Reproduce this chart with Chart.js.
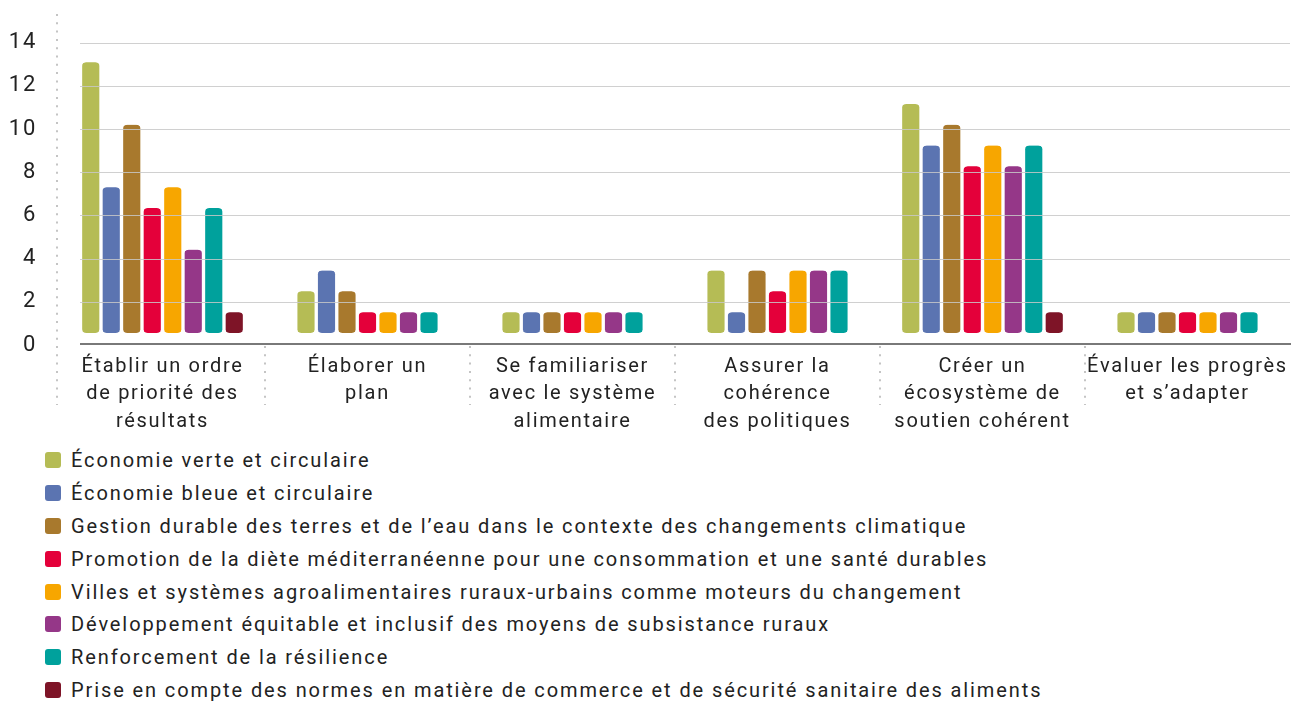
<!DOCTYPE html>
<html lang="fr">
<head>
<meta charset="utf-8">
<script src="https://cdn.jsdelivr.net/npm/chart.js@4.4.1/dist/chart.umd.min.js"></script>
<style>
  html, body { margin: 0; padding: 0; background: #fff; }
  #wrap { position: relative; width: 1307px; height: 702px; overflow: hidden; }
  #c { position: absolute; left: 0; top: 0; }
  #legend { position: absolute; left: 45px; top: 444px; margin: 0; padding: 0; list-style: none;
    font-family: Roboto, "Noto Sans", sans-serif; font-size: 20px; letter-spacing: 1.9px; color: #222; }
  #legend li { height: 32.8px; display: flex; align-items: center; white-space: nowrap; }
  #legend .box { width: 16px; height: 16px; border-radius: 3px; margin-right: 10px; flex: none; }
</style>
</head>
<body>
<div id="wrap">
  <canvas id="c" width="1307" height="440"></canvas>
  <ul id="legend"></ul>
</div>
<script>
// ---- data ----
const categories = [
  ['Établir un ordre', 'de priorité des', 'résultats'],
  ['Élaborer un', 'plan'],
  ['Se familiariser', 'avec le système', 'alimentaire'],
  ['Assurer la', 'cohérence', 'des politiques'],
  ['Créer un', 'écosystème de', 'soutien cohérent'],
  ['Évaluer les progrès', 'et s’adapter']
];
const seriesNames = [
  'Économie verte et circulaire',
  'Économie bleue et circulaire',
  'Gestion durable des terres et de l’eau dans le contexte des changements climatique',
  'Promotion de la diète méditerranéenne pour une consommation et une santé durables',
  'Villes et systèmes agroalimentaires ruraux-urbains comme moteurs du changement',
  'Développement équitable et inclusif des moyens de subsistance ruraux',
  'Renforcement de la résilience',
  'Prise en compte des normes en matière de commerce et de sécurité sanitaire des aliments'
];
const seriesColors = ['#B5BC55', '#5B74B1', '#A8792D', '#E4003A', '#F7A600', '#953788', '#00A19C', '#7E1427'];
const economieVerte   = [13, 2, 1, 3, 11, 1];
const economieBleue   = [7, 3, 1, 1, 9, 1];
const gestionTerres   = [10, 2, 1, 3, 10, 1];
const dieteMed        = [6, 1, 1, 2, 8, 1];
const villesSystemes  = [7, 1, 1, 3, 9, 1];
const developpement   = [4, 1, 1, 3, 8, 1];
const resilience      = [6, 1, 1, 3, 9, 1];
const normesCommerce  = [1, null, null, null, 1, null];
const seriesValues = [economieVerte, economieBleue, gestionTerres, dieteMed, villesSystemes, developpement, resilience, normesCommerce];
const yTicks = [0, 2, 4, 6, 8, 10, 12, 14];

// ---- style ----
const FONT = 'Roboto, "Noto Sans", sans-serif';
const TEXT = '#222222';

const datasets = seriesNames.map((name, i) => ({
  label: name,
  data: seriesValues[i],
  backgroundColor: seriesColors[i],
  borderColor: '#ffffff',
  borderWidth: { left: 2, right: 2, top: 0, bottom: 0 },
  borderRadius: 6,
  borderSkipped: false,
  barThickness: 20.5,
  skipNull: true,
  yAxisID: 'yb'
}));

const letterSpacingPlugin = {
  id: 'ls',
  beforeLayout(chart) { chart.ctx.letterSpacing = '1.7px'; },
  beforeDraw(chart) { chart.ctx.letterSpacing = '1.7px'; }
};

const decoPlugin = {
  id: 'deco',
  afterDatasetsDraw(chart) {
    const { ctx, chartArea, scales } = chart;
    const y = scales.y, x = scales.x;
    const left = chartArea.left + 20, right = chartArea.right;
    ctx.save();
    // horizontal grid lines
    ctx.strokeStyle = 'rgba(200,200,200,0.85)';
    ctx.lineWidth = 1.2;
    yTicks.forEach(v => {
      if (v === 0) return;
      const py = Math.round(y.getPixelForValue(v)) + 0.5;
      ctx.beginPath(); ctx.moveTo(left, py); ctx.lineTo(right, py); ctx.stroke();
    });
    // baseline axis
    const p0 = y.getPixelForValue(0) - 1;
    ctx.strokeStyle = '#4d4d4d';
    ctx.lineWidth = 1.6;
    ctx.beginPath(); ctx.moveTo(left, p0); ctx.lineTo(right + 1, p0); ctx.stroke();
    // dotted separators
    ctx.strokeStyle = '#c4c4c4';
    ctx.lineWidth = 2;
    ctx.setLineDash([2, 6.3]);
    const bottom = chartArea.bottom + 60;
    ctx.beginPath();
    ctx.moveTo(chartArea.left - 3, 14); ctx.lineTo(chartArea.left - 3, bottom);
    for (let i = 0; i < categories.length - 1; i++) {
      const px = (x.getPixelForValue(i) + x.getPixelForValue(i + 1)) / 2;
      ctx.moveTo(px, chartArea.bottom + 1); ctx.lineTo(px, bottom);
    }
    ctx.stroke();
    ctx.restore();
  }
};

const chart = new Chart(document.getElementById('c'), {
  type: 'bar',
  data: { labels: categories, datasets },
  options: {
    responsive: false,
    animation: false,
    devicePixelRatio: 1,
    layout: { padding: { top: 21, right: 17, left: 0, bottom: 0 } },
    plugins: { legend: { display: false }, tooltip: { enabled: false } },
    scales: {
      x: {
        type: 'category',
        offset: true,
        grid: { display: false },
        border: { display: false },
        ticks: {
          font: { family: FONT, size: 20, lineHeight: 1.38 },
          color: TEXT, padding: 0, maxRotation: 0, autoSkip: false
        },
        afterFit(s) { s.height = 95; s.paddingLeft = 0; s.paddingRight = 0; }
      },
      y: {
        position: 'left',
        min: 0, max: 15,
        afterBuildTicks(s) { s.ticks = yTicks.map(v => ({ value: v })); },
        grid: { display: false },
        border: { display: false },
        ticks: { font: { family: FONT, size: 22 }, color: TEXT, padding: 15 },
        afterFit(s) { s.width = 60; s.paddingTop = 0; s.paddingBottom = 0; }
      },
      yb: {
        display: false,
        min: -0.577, max: 14.98
      }
    }
  },
  plugins: [letterSpacingPlugin, decoPlugin]
});

// HTML legend built from the chart's datasets
const ul = document.getElementById('legend');
chart.data.datasets.forEach(ds => {
  const li = document.createElement('li');
  const box = document.createElement('span');
  box.className = 'box';
  box.style.background = ds.backgroundColor;
  const t = document.createElement('span');
  t.textContent = ds.label;
  li.appendChild(box); li.appendChild(t);
  ul.appendChild(li);
});
</script>
</body>
</html>
